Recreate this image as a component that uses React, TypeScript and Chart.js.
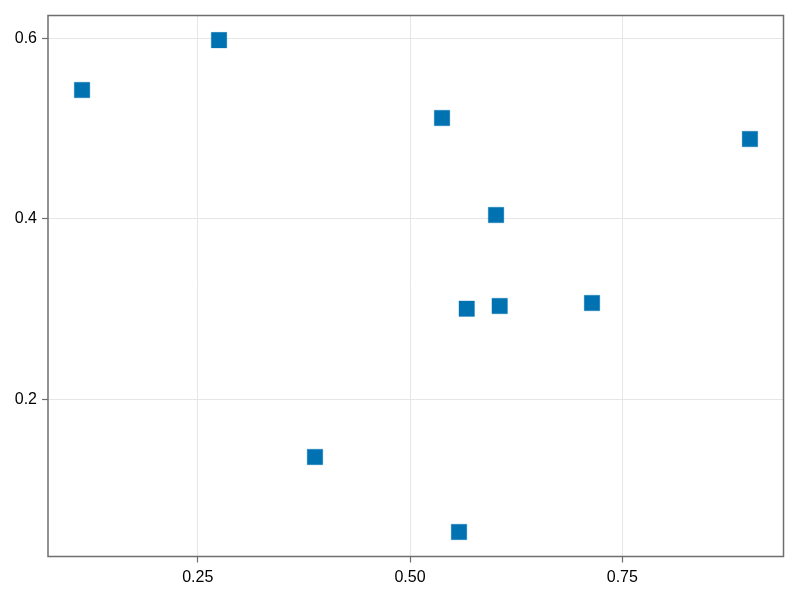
import React, { useEffect, useRef } from "react";
import { Chart, registerables } from "chart.js";

Chart.register(...registerables);

const xValues = [0.1138, 0.2751, 0.5377, 0.9003, 0.6013, 0.5668, 0.6056, 0.7143, 0.3881, 0.5577];
const yValues = [0.5427, 0.598, 0.5117, 0.4884, 0.4042, 0.3004, 0.3034, 0.3067, 0.1361, 0.053];
const xTicks = [0.25, 0.5, 0.75];
const xTickLabels = ["0.25", "0.50", "0.75"];
const yTicks = [0.2, 0.4, 0.6];
const yTickLabels = ["0.2", "0.4", "0.6"];

const framePlugin = {
  id: "frame",
  afterDraw(chart: any) {
    const { ctx, chartArea } = chart;
    ctx.save();
    ctx.strokeStyle = "#6e6e6e";
    ctx.lineWidth = 1.5;
    ctx.strokeRect(chartArea.left, chartArea.top, chartArea.right - chartArea.left, chartArea.bottom - chartArea.top);
    ctx.restore();
  },
};

export default function App() {
  const ref = useRef<HTMLCanvasElement>(null);
  useEffect(() => {
    if (!ref.current) return;
    const data = xValues.map((x, i) => ({ x, y: yValues[i] }));
    const chart = new Chart(ref.current, {
      type: "scatter",
      data: {
        datasets: [
          {
            data,
            pointStyle: "rect",
            pointRadius: 11,
            pointHoverRadius: 11,
            backgroundColor: "#0072B2",
            borderColor: "rgba(0,114,178,0.6)",
            borderWidth: 0.5,
          },
        ],
      },
      options: {
        animation: false,
        responsive: false,
        maintainAspectRatio: false,
        layout: { padding: { top: 15.5, right: 16.5, left: 0, bottom: 0 } },
        plugins: { legend: { display: false }, tooltip: { enabled: false } },
        scales: {
          x: {
            type: "linear",
            min: 0.0737,
            max: 0.9398,
            afterFit: (s: any) => { s.height = 43.5; },
            afterBuildTicks: (s: any) => { s.ticks = xTicks.map((v) => ({ value: v })); },
            ticks: {
              callback: (v: any) => { const i = xTicks.indexOf(Number(v)); return i >= 0 ? xTickLabels[i] : ""; },
              font: { family: "'Liberation Sans', Arial, sans-serif", size: 16 },
              color: "#000",
              padding: 5,
              maxRotation: 0,
            },
            grid: { color: "#e6e6e6", lineWidth: 1, tickColor: "#6e6e6e", tickLength: 6, tickWidth: 1.2 },
            border: { display: false },
          },
          y: {
            type: "linear",
            min: 0.0258,
            max: 0.6253,
            afterFit: (s: any) => { s.width = 48; },
            afterBuildTicks: (s: any) => { s.ticks = yTicks.map((v) => ({ value: v })); },
            ticks: {
              callback: (v: any) => { const i = yTicks.findIndex((t) => Math.abs(t - Number(v)) < 1e-9); return i >= 0 ? yTickLabels[i] : ""; },
              font: { family: "'Liberation Sans', Arial, sans-serif", size: 16 },
              color: "#000",
              padding: 5,
            },
            grid: { color: "#e6e6e6", lineWidth: 1, tickColor: "#6e6e6e", tickLength: 6, tickWidth: 1.2 },
            border: { display: false },
          },
        },
      },
      plugins: [framePlugin],
    });
    return () => chart.destroy();
  }, []);
  return (
    <div style={{ position: "fixed", left: 0, top: 0, width: 800, height: 600, background: "#fff" }}>
      <canvas ref={ref} width={800} height={600} style={{ width: 800, height: 600, display: "block" }} />
    </div>
  );
}
